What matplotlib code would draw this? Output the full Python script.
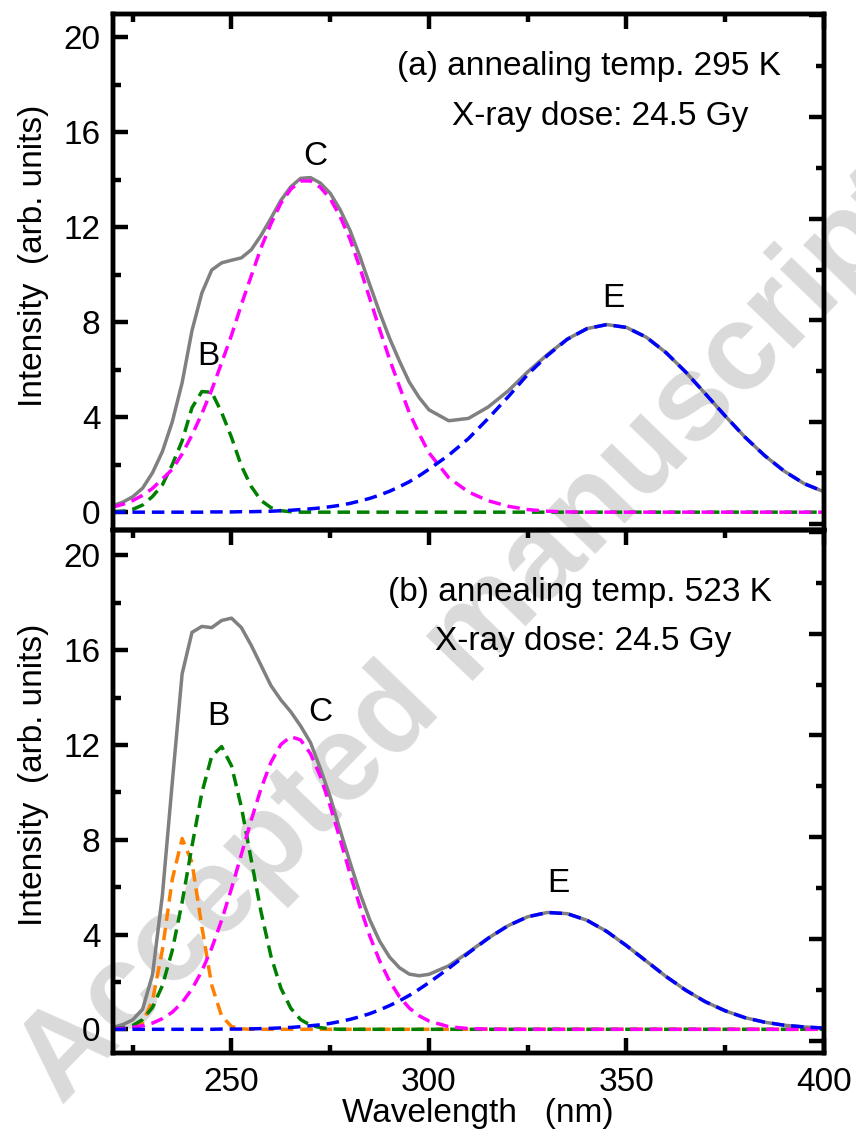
import matplotlib
matplotlib.use("Agg")
import matplotlib.pyplot as plt
from matplotlib.ticker import MultipleLocator

plt.rcParams['font.family'] = ['Liberation Sans', 'DejaVu Sans']

# wavelength grid (nm) the curves were read at
wl = [220, 222.5, 225, 227.5, 230, 232.5, 235, 237.5, 240, 242.5, 245, 247.5,
      250, 252.5, 255, 257.5, 260, 262.5, 265, 267.5, 270, 272.5, 275, 277.5,
      280, 282.5, 285, 287.5, 290, 292.5, 295, 297.5, 300, 305, 310, 315, 320,
      325, 330, 335, 340, 345, 350, 355, 360, 365, 370, 375, 380, 385, 390,
      395, 400]

# (a) annealing 295 K
sum_a = [0.28, 0.42, 0.65, 1.01, 1.66, 2.55, 3.8, 5.45, 7.65, 9.23, 10.2, 10.5,
         10.61, 10.71, 11.05, 11.66, 12.38, 13.13, 13.7, 14.06, 14.09, 13.86,
         13.43, 12.74, 11.87, 10.77, 9.58, 8.42, 7.33, 6.37, 5.48, 4.83, 4.31,
         3.85, 3.95, 4.43, 5.1, 5.91, 6.64, 7.29, 7.73, 7.9, 7.78, 7.37, 6.72,
         5.9, 4.98, 4.05, 3.16, 2.38, 1.72, 1.2, 0.86]
band_b_a = [0.01, 0.04, 0.12, 0.3, 0.66, 1.15, 2.0, 3.0, 4.4, 5.08, 5.05, 4.2,
            3.15, 1.95, 1.08, 0.49, 0.19, 0.06, 0.02] + [0] * 34
band_c_a = [0.22, 0.33, 0.49, 0.71, 1.0, 1.4, 1.8, 2.45, 3.25, 4.15, 5.15, 6.29,
            7.45, 8.74, 9.95, 11.14, 12.15, 13.01, 13.6, 13.95, 13.95, 13.68,
            13.2, 12.45, 11.5, 10.3, 9.0, 7.7, 6.45, 5.3, 4.2, 3.3, 2.5, 1.45,
            0.85, 0.48, 0.25, 0.11, 0.04, 0.01] + [0] * 13
band_e_a = [0] * 10 + [0.01, 0.01, 0.01, 0.02, 0.02, 0.03, 0.04, 0.06, 0.08,
                       0.11, 0.14, 0.18, 0.23, 0.29, 0.37, 0.47, 0.58, 0.72,
                       0.88, 1.07, 1.28, 1.53, 1.81, 2.4, 3.1, 3.95, 4.85, 5.8,
                       6.6, 7.28, 7.73, 7.9, 7.78, 7.37, 6.72, 5.9, 4.98, 4.05,
                       3.16, 2.38, 1.72, 1.2, 0.86]

# (b) annealing 523 K
sum_b = [0.08, 0.2, 0.4, 0.85, 2.3, 5.65, 10.4, 15.0, 16.75, 17.0, 16.95, 17.25,
         17.35, 16.95, 16.2, 15.35, 14.5, 13.9, 13.4, 12.8, 12.1, 11.0, 9.8,
         8.4, 7.05, 5.75, 4.62, 3.72, 3.05, 2.6, 2.33, 2.26, 2.32, 2.68, 3.25,
         3.85, 4.37, 4.75, 4.93, 4.88, 4.6, 4.13, 3.53, 2.88, 2.23, 1.65, 1.16,
         0.78, 0.49, 0.3, 0.17, 0.1, 0.05]
band_a_b = [0, 0.01, 0.05, 0.29, 1.21, 3.35, 6.32, 8.05, 7.04, 4.32, 1.86, 0.56,
            0.12, 0.02] + [0] * 39
band_b_b = [0.02, 0.06, 0.16, 0.41, 0.92, 1.84, 3.32, 5.36, 7.73, 9.98, 11.53,
            11.93, 11.12, 9.38, 7.15, 4.94, 3.08, 1.74, 0.89, 0.41, 0.17, 0.07,
            0.02] + [0] * 30
band_c_b = [0.02, 0.04, 0.08, 0.15, 0.26, 0.45, 0.72, 1.13, 1.7, 2.46, 3.43, 4.6,
            5.94, 7.38, 8.83, 10.17, 11.27, 12.02, 12.35, 12.21, 11.63, 10.67,
            9.42, 8.02, 6.57, 5.19, 3.94, 2.89, 2.04, 1.38, 0.9, 0.57, 0.35,
            0.11, 0.03, 0.01] + [0] * 17
band_e_b = [0] * 11 + [0.01, 0.01, 0.01, 0.02, 0.03, 0.04, 0.06, 0.08, 0.11,
                       0.15, 0.19, 0.25, 0.33, 0.42, 0.53, 0.66, 0.82, 1.0, 1.2,
                       1.43, 1.69, 1.97, 2.57, 3.22, 3.84, 4.37, 4.75, 4.93,
                       4.88, 4.6, 4.13, 3.53, 2.88, 2.23, 1.65, 1.16, 0.78,
                       0.49, 0.3, 0.17, 0.1, 0.05]

GRAY = '#808080'
ORANGE = '#FF8000'
GREEN = '#008000'
MAGENTA = '#FF00FF'
BLUE = '#0000FF'
FS = 24
LW = 2.5
DASH = (3.6, 2.0)
SPINE = 3.2

fig = plt.figure(figsize=(8.56, 11.39), dpi=100)
ax1 = fig.add_axes([0.1320, 0.5347, 0.8306, 0.4530])
ax2 = fig.add_axes([0.1320, 0.0755, 0.8306, 0.4592])

# watermark sits underneath everything
fig.text(0.55, 0.44, 'Accepted manuscript', rotation=46, fontsize=88,
         fontweight='bold', color='#dadada', ha='center', va='center',
         zorder=-1)

ax1.plot(wl, sum_a, color=GRAY, lw=LW, solid_joinstyle='round')
ax1.plot(wl, band_b_a, color=GREEN, lw=LW, dashes=DASH)
ax1.plot(wl, band_c_a, color=MAGENTA, lw=LW, dashes=DASH)
ax1.plot(wl, band_e_a, color=BLUE, lw=LW, dashes=DASH)

ax2.plot(wl, sum_b, color=GRAY, lw=LW, solid_joinstyle='round')
ax2.plot(wl, band_a_b, color=ORANGE, lw=LW, dashes=DASH)
ax2.plot(wl, band_b_b, color=GREEN, lw=LW, dashes=DASH)
ax2.plot(wl, band_c_b, color=MAGENTA, lw=LW, dashes=DASH)
ax2.plot(wl, band_e_b, color=BLUE, lw=LW, dashes=DASH)

ax1.set_ylim(-0.75, 20.98)
ax2.set_ylim(-1.0, 21.07)

for ax in (ax1, ax2):
    ax.set_facecolor('none')
    ax.set_xlim(220, 400)
    ax.xaxis.set_major_locator(MultipleLocator(50))
    ax.xaxis.set_minor_locator(MultipleLocator(25))
    ax.yaxis.set_major_locator(MultipleLocator(4))
    ax.yaxis.set_minor_locator(MultipleLocator(2))
    ax.tick_params(which='both', direction='in', top=True, right=False,
                   width=SPINE, labelsize=FS)
    ax.tick_params(which='major', length=11)
    ax.tick_params(which='minor', length=6)
    ax.tick_params(axis='x', pad=10)
    ax.tick_params(axis='y', pad=9)
    for s in ax.spines.values():
        s.set_linewidth(SPINE)
    ax.set_ylabel('Intensity  (arb. units)', fontsize=FS)
    ax.yaxis.set_label_coords(-0.09, 0.532)

ax1.tick_params(which='both', bottom=False, labelbottom=False)
ax1.set_yticks([0, 4, 8, 12, 16, 20])
ax2.set_yticks([0, 4, 8, 12, 16, 20])
ax2.set_xticks([250, 300, 350, 400])
ax2.set_xlabel('Wavelength   (nm)', fontsize=FS)
ax2.xaxis.set_label_coords(0.513, -0.086)

# right-hand axis carries its own (unlabelled) tick spacing
for ax, lim in ((ax1, (-0.056, 5.008)), (ax2, (-0.121, 5.02))):
    tw = ax.twinx()
    tw.set_ylim(*lim)
    tw.yaxis.set_major_locator(MultipleLocator(1))
    tw.yaxis.set_minor_locator(MultipleLocator(0.5))
    tw.tick_params(which='both', direction='in', width=SPINE, labelright=False)
    tw.tick_params(which='major', length=11)
    tw.tick_params(which='minor', length=6)
    for s in tw.spines.values():
        s.set_linewidth(SPINE)

ax1.text(291.9, 18.41, '(a) annealing temp. 295 K', fontsize=FS)
ax1.text(305.8, 16.31, 'X-ray dose: 24.5 Gy', fontsize=FS)
ax2.text(289.6, 18.06, '(b) annealing temp. 523 K', fontsize=FS)
ax2.text(301.5, 16.02, 'X-ray dose: 24.5 Gy', fontsize=FS)

ax1.text(271.3, 14.62, 'C', fontsize=FS, ha='center')
ax1.text(244.2, 6.2, 'B', fontsize=FS, ha='center')
ax1.text(346.8, 8.66, 'E', fontsize=FS, ha='center')
ax2.text(246.6, 12.85, 'B', fontsize=FS, ha='center')
ax2.text(272.6, 12.99, 'C', fontsize=FS, ha='center')
ax2.text(332.7, 5.81, 'E', fontsize=FS, ha='center')

fig.savefig('out.png', dpi=100)
